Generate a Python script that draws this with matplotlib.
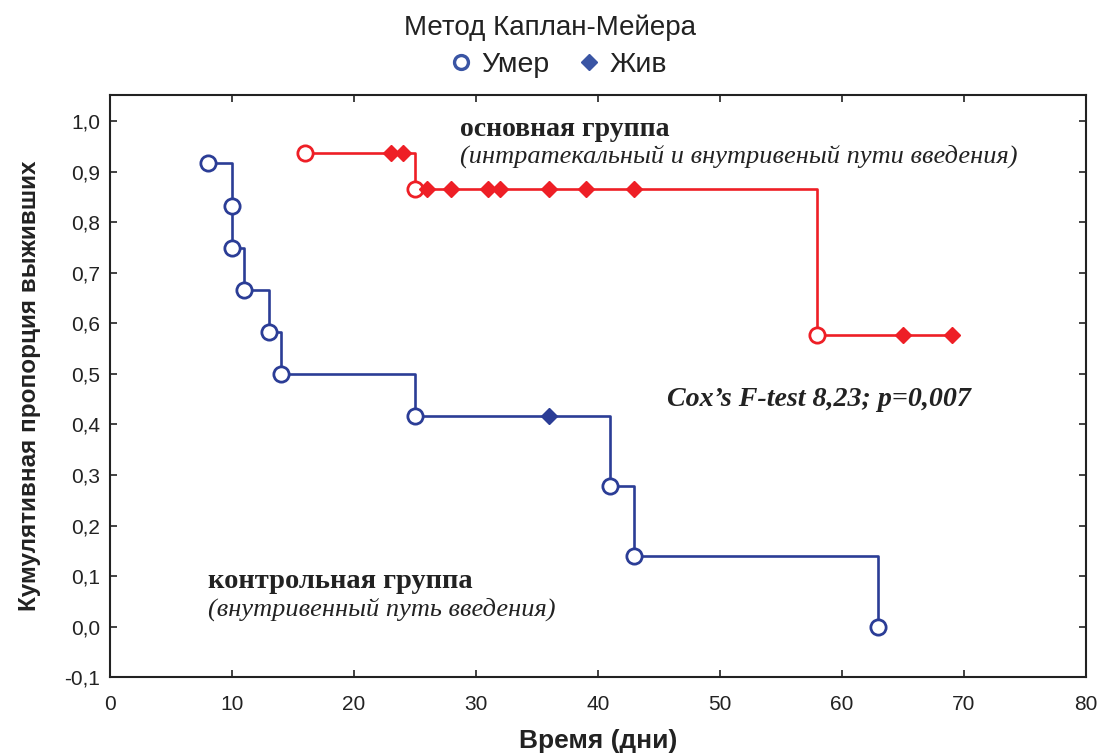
import matplotlib
matplotlib.use('Agg')
import matplotlib.pyplot as plt
from matplotlib.lines import Line2D
import numpy as np

# Данные
# контрольная группа
control_times = [8, 10, 10, 11, 13, 14, 25, 41, 43, 63]
control_surv = [0.917, 0.833, 0.750, 0.667, 0.583, 0.500, 0.417, 0.278, 0.139, 0.0]
control_censored = [36]

# основная группа
main_times = [16, 25, 58]
main_surv = [0.9375, 0.865, 0.577]
main_censored = [23, 24, 26, 28, 31, 32, 36, 39, 43, 65, 69]

x_ticks = [0, 10, 20, 30, 40, 50, 60, 70, 80]
y_ticks = [-0.1, 0.0, 0.1, 0.2, 0.3, 0.4, 0.5, 0.6, 0.7, 0.8, 0.9, 1.0]

BLUE = '#2b3d96'
RED = '#ee1f26'
LEG_BLUE = '#3a55a4'
TXT = '#222222'


def surv_at(times, surv, t):
    """Значение ступенчатой функции в точке t"""
    idx = np.searchsorted(times, t, side='right') - 1
    return surv[idx]


def draw_group(ax, times, surv, censored, color):
    times = np.array(times, dtype=float)
    surv = np.array(surv, dtype=float)
    end = max(times.max(), max(censored))
    xs = np.append(times, end)
    ys = np.append(surv, surv[-1])
    ax.step(xs, ys, where='post', color=color, lw=1.9, zorder=2)
    ax.plot(times, surv, 'o', ms=11, mfc='white', mec=color, mew=2.0,
            ls='none', zorder=3)
    cy = [surv_at(times, surv, t) for t in censored]
    ax.plot(censored, cy, 'D', ms=8.5, color=color, ls='none', zorder=4)


plt.rcParams.update({
    'font.family': ['Liberation Sans', 'DejaVu Sans'],
    'font.size': 15,
})

fig = plt.figure(figsize=(11, 7.54), dpi=100)
ax = fig.add_axes([0.1, 0.102, 0.887, 0.772])

draw_group(ax, control_times, control_surv, control_censored, BLUE)
draw_group(ax, main_times, main_surv, main_censored, RED)

ax.set_xlim(0, 80)
ax.set_ylim(-0.1, 1.052)
ax.set_xticks(x_ticks)
ax.set_yticks(y_ticks)
ax.set_yticklabels([f'{v:.1f}'.replace('.', ',') for v in y_ticks])
ax.tick_params(direction='in', top=True, right=True, length=5, width=1.2,
               labelsize=15, colors=TXT)
ax.tick_params(axis='x', pad=13)
ax.tick_params(axis='y', pad=7)
for sp in ax.spines.values():
    sp.set_linewidth(1.5)
    sp.set_color(TXT)

ax.set_xlabel('Время (дни)', fontsize=19, fontweight='bold', labelpad=11,
              color=TXT)
ax.set_ylabel('Кумулятивная пропорция выживших', fontsize=17.5,
              fontweight='bold', labelpad=17, color=TXT)

serif = ['Liberation Serif', 'DejaVu Serif']
ax.text(28.7, 0.983, 'основная группа', family=serif, fontsize=20,
        fontweight='bold', va='center', color=TXT)
ax.text(28.7, 0.930, '(интратекальный и внутривеный пути введения)',
        family=serif, fontsize=19, style='italic', va='center', color=TXT)
ax.text(45.7, 0.450, 'Cox’s F-test 8,23; p=0,007', family=serif, fontsize=20.2,
        fontweight='bold', style='italic', va='center', color=TXT)
ax.text(8.0, 0.089, 'контрольная группа', family=serif, fontsize=20.5,
        fontweight='bold', va='center', color=TXT)
ax.text(8.0, 0.035, '(внутривенный путь введения)', family=serif, fontsize=19,
        style='italic', va='center', color=TXT)

fig.text(0.5, 0.963, 'Метод Каплан-Мейера', ha='center', va='center',
         fontsize=20, color=TXT)

handles = [
    Line2D([], [], marker='o', ls='none', ms=10, mfc='white', mec=LEG_BLUE,
           mew=2.4, label='Умер'),
    Line2D([], [], marker='D', ls='none', ms=8, color=LEG_BLUE, label='Жив'),
]
fig.legend(handles=handles, loc='center', bbox_to_anchor=(0.505, 0.914),
           ncol=2, frameon=False, fontsize=20.5, handletextpad=0.1,
           columnspacing=0.8, handlelength=1.2, labelcolor=TXT)

plt.savefig('out.png', dpi=100)
